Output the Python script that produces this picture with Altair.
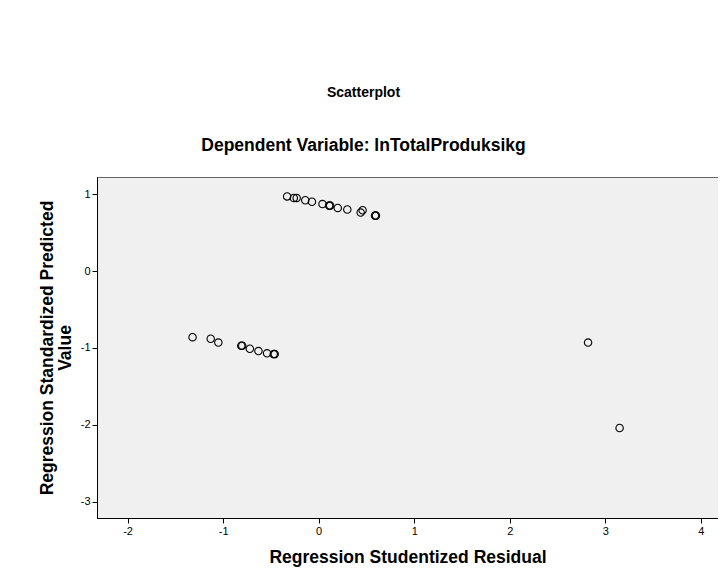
import altair as alt
import pandas as pd

residual = [-0.33, -0.26, -0.23, -0.14, -0.07, 0.04, 0.11, 0.12, 0.20, 0.30, 0.44, 0.46, 0.59, 0.60,
            -1.32, -1.13, -1.05, -0.81, -0.80, -0.72, -0.63, -0.54, -0.47, -0.46,
            2.82, 3.15]
predicted = [0.97, 0.95, 0.95, 0.92, 0.90, 0.87, 0.85, 0.85, 0.82, 0.80, 0.76, 0.79, 0.72, 0.72,
             -0.86, -0.88, -0.93, -0.97, -0.97, -1.01, -1.04, -1.07, -1.08, -1.08,
             -0.93, -2.04]
x_ticks = [-2, -1, 0, 1, 2, 3, 4]
y_ticks = [-3, -2, -1, 0, 1]

df = pd.DataFrame({"res": residual, "pred": predicted})

FONT = "Liberation Sans"

chart = alt.Chart(df).mark_point(
    shape="circle", filled=False, color="black", strokeWidth=1.1, size=55, opacity=1
).encode(
    x=alt.X("res:Q", scale=alt.Scale(domain=[-2.32, 4.18], nice=False, zero=False),
            axis=alt.Axis(values=x_ticks, title="Regression Studentized Residual",
                          labelExpr="toString(datum.value)")),
    y=alt.Y("pred:Q", scale=alt.Scale(domain=[-3.21, 1.222], nice=False, zero=False),
            axis=alt.Axis(values=y_ticks, title=["Regression Standardized Predicted", "Value"],
                          labelExpr="toString(datum.value)")),
).properties(
    width=621, height=341,
    autosize=alt.AutoSizeParams(type="none"),
    padding={"left": 89, "top": 169, "right": 0, "bottom": 58},
    title=alt.TitleParams(
        text="Scatterplot",
        subtitle="Dependent Variable: lnTotalProduksikg",
        anchor="middle", frame="group", dx=-44, offset=23,
        font=FONT, fontSize=14, fontWeight="bold", color="black",
        subtitleFont=FONT, subtitleFontSize=17.5, subtitleFontWeight="bold",
        subtitleColor="black", subtitlePadding=37,
    ),
).configure_view(
    fill="#f0f0f0", stroke="#666666", strokeWidth=1
).configure_axis(
    grid=False, domainColor="black", tickColor="black", tickSize=5,
    labelFont=FONT, labelFontSize=11, labelColor="black", labelPadding=2,
    titleFont=FONT, titleFontSize=17.5, titleFontWeight="bold", titleColor="black",
    domainWidth=1, tickWidth=1,
).configure_axisX(
    titlePadding=12,
).configure_axisY(
    titlePadding=6, titleLineHeight=18,
)

chart.save("out.html", embed_options={"renderer": "svg", "actions": False})
